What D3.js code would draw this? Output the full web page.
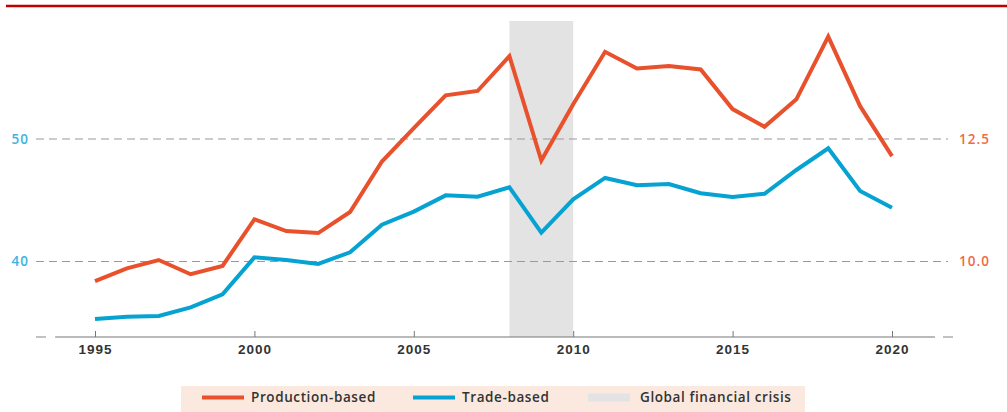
<!DOCTYPE html>
<html lang="en">
<head>
<meta charset="UTF-8">
<title>Production vs trade based</title>
<script src="https://d3js.org/d3.v7.min.js"></script>
<style>
    body { margin: 0; background: #fff; }
    svg { display: block; font-family: "Open Sans", sans-serif; }
    .xaxis text { font-size: 13.5px; font-weight: 600; fill: #333; letter-spacing: 1px; }
    .xaxis line { stroke: #777; }
    .legend text { font-size: 13.5px; font-weight: 600; fill: #333; letter-spacing: 0.6px; }
    .ylab { font-size: 13.5px; font-weight: 600; letter-spacing: 1px; }
</style>
</head>
<body>
<svg id="chart" width="1007" height="412"></svg>
<script>
// data
var years = d3.range(1995, 2021);
var production = [9.60, 9.86, 10.03, 9.74, 9.91, 10.86, 10.62, 10.58, 11.01, 12.04,
                  12.72, 13.39, 13.48, 14.19, 12.06, 13.21, 14.28, 13.94, 13.99, 13.92,
                  13.11, 12.75, 13.31, 14.59, 13.17, 12.15];
var trade = [35.31, 35.49, 35.55, 36.26, 37.32, 40.34, 40.12, 39.80, 40.75, 43.00,
             44.07, 45.40, 45.29, 46.06, 42.35, 45.08, 46.82, 46.22, 46.33, 45.57,
             45.27, 45.53, 47.47, 49.24, 45.76, 44.39];
var crisis = [2008, 2010];
var xTicks = [1995, 2000, 2005, 2010, 2015, 2020];
var leftTicks = [40, 50];
var rightTicks = [10.0, 12.5];

var orange = "#e8512b", blue = "#06a3d2", grey = "#e3e3e3";

var svg = d3.select("#chart");

var x = d3.scaleLinear().domain([1995, 2020]).range([95, 892]);
var yL = d3.scaleLinear().domain([40, 50]).range([261.5, 139]);
var yR = d3.scaleLinear().domain([10, 12.5]).range([261.5, 139]);
var axisY = 337;

// red rule at top
svg.append("line")
    .attr("x1", 6).attr("x2", 1007).attr("y1", 6).attr("y2", 6)
    .attr("stroke", "#c00000").attr("stroke-width", 2.5);

// crisis band
svg.append("rect")
    .attr("x", x(crisis[0]))
    .attr("width", x(crisis[1]) - x(crisis[0]))
    .attr("y", 21)
    .attr("height", axisY - 21)
    .attr("fill", grey);

// dashed grid
svg.selectAll(".grid")
    .data(leftTicks)
    .enter()
    .append("line")
    .attr("class", "grid")
    .attr("x1", 36).attr("x2", 948)
    .attr("y1", d => yL(d)).attr("y2", d => yL(d))
    .attr("stroke", "#9a9a9a")
    .attr("stroke-width", 1.2)
    .attr("stroke-dasharray", "8,5");

// left labels
svg.selectAll(".lt")
    .data(leftTicks)
    .enter()
    .append("text")
    .attr("class", "ylab")
    .attr("x", 29)
    .attr("y", d => yL(d))
    .attr("dy", "0.35em")
    .attr("text-anchor", "end")
    .attr("fill", "#3db3e3")
    .text(d => d);

// right labels
svg.selectAll(".rt")
    .data(rightTicks)
    .enter()
    .append("text")
    .attr("class", "ylab")
    .attr("x", 959)
    .attr("y", d => yR(d))
    .attr("dy", "0.35em")
    .attr("fill", "#f06a45")
    .text(d => d3.format(".1f")(d));

// x axis
svg.append("line")
    .attr("x1", x(1993.75)).attr("x2", x(2021.35))
    .attr("y1", axisY).attr("y2", axisY)
    .attr("stroke", "#777").attr("stroke-width", 1.2);
svg.append("line")
    .attr("x1", 36).attr("x2", 46).attr("y1", axisY).attr("y2", axisY)
    .attr("stroke", "#9a9a9a").attr("stroke-width", 1.2);
svg.append("line")
    .attr("x1", 943).attr("x2", 953).attr("y1", axisY).attr("y2", axisY)
    .attr("stroke", "#9a9a9a").attr("stroke-width", 1.2);

var xAxis = svg.append("g")
    .attr("class", "xaxis")
    .attr("transform", "translate(0," + axisY + ")")
    .call(d3.axisBottom(x).tickValues(xTicks).tickFormat(d3.format("d")).tickSize(-6).tickPadding(7));
xAxis.select(".domain").remove();
xAxis.selectAll("text").attr("font-family", null).attr("font-size", null);

// lines
var lineP = d3.line().x((d, i) => x(years[i])).y(d => yR(d));
var lineT = d3.line().x((d, i) => x(years[i])).y(d => yL(d));

svg.append("path")
    .datum(trade)
    .attr("d", lineT)
    .attr("fill", "none")
    .attr("stroke", blue)
    .attr("stroke-width", 4)
    .attr("stroke-linejoin", "miter");

svg.append("path")
    .datum(production)
    .attr("d", lineP)
    .attr("fill", "none")
    .attr("stroke", orange)
    .attr("stroke-width", 4)
    .attr("stroke-linejoin", "miter");

// legend
var legend = svg.append("g").attr("class", "legend");
legend.append("rect")
    .attr("x", 181).attr("y", 386).attr("width", 624).attr("height", 26)
    .attr("fill", "#fbe9df");

var items = [
    {label: "Production-based", color: orange, x: 202, w: 4},
    {label: "Trade-based", color: blue, x: 413, w: 4},
    {label: "Global financial crisis", color: grey, x: 588, w: 8}
];
var li = legend.selectAll(".item")
    .data(items)
    .enter()
    .append("g");
li.append("line")
    .attr("x1", d => d.x).attr("x2", d => d.x + 42)
    .attr("y1", 397.5).attr("y2", 397.5)
    .attr("stroke", d => d.color)
    .attr("stroke-width", d => d.w);
li.append("text")
    .attr("x", d => d.x + (d.w > 4 ? 52 : 49))
    .attr("y", 397.5)
    .attr("dy", "0.35em")
    .text(d => d.label);
</script>
</body>
</html>
